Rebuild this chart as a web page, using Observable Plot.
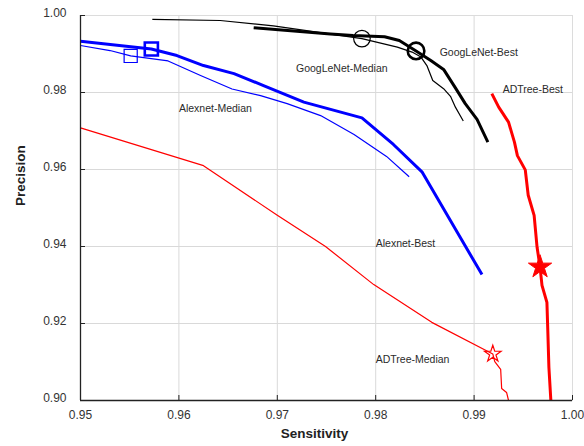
<!DOCTYPE html>
<html>
<head>
<meta charset="utf-8">
<script src="https://cdn.jsdelivr.net/npm/d3@7"></script>
<script src="https://cdn.jsdelivr.net/npm/@observablehq/plot@0.6"></script>
<style>
  html, body { margin: 0; padding: 0; background: #fff; }
  #chart svg { display: block; }
</style>
</head>
<body>
<div id="chart"></div>
<script>
// ---- data ----
const xTicks = [0.95, 0.96, 0.97, 0.98, 0.99, 1.00];
const yTicks = [0.90, 0.92, 0.94, 0.96, 0.98, 1.00];

const seriesNames = ["GoogLeNet-Best", "GoogLeNet-Median", "Alexnet-Best", "Alexnet-Median", "ADTree-Best", "ADTree-Median"];
const seriesColors = ["#000000", "#000000", "#0000ff", "#0000ff", "#ff0000", "#ff0000"];
const seriesWidths = [3, 1.2, 3, 1.2, 3, 1.2];

const googBestX = [0.9676, 0.9754, 0.9777, 0.9809, 0.9824, 0.9841, 0.9856, 0.9869, 0.9881, 0.9891, 0.9903, 0.9914];
const googBestY = [0.9968, 0.9952, 0.9948, 0.9945, 0.9935, 0.9908, 0.9883, 0.9860, 0.9812, 0.9771, 0.9730, 0.9671];

const googMedX = [0.9573, 0.9642, 0.9696, 0.9751, 0.9786, 0.9822, 0.9837, 0.9846, 0.9852, 0.9858, 0.9869, 0.9876, 0.9881, 0.9889];
const googMedY = [0.9990, 0.9987, 0.9973, 0.9953, 0.9940, 0.9918, 0.9905, 0.9892, 0.9870, 0.9831, 0.9810, 0.9790, 0.9762, 0.9726];

const alexBestX = [0.9500, 0.9572, 0.9598, 0.9625, 0.9656, 0.9686, 0.9727, 0.9786, 0.9818, 0.9847, 0.9908];
const alexBestY = [0.9933, 0.9913, 0.9896, 0.9870, 0.9849, 0.9818, 0.9775, 0.9734, 0.9665, 0.9594, 0.9327];

const alexMedX = [0.9500, 0.9530, 0.9551, 0.9589, 0.9622, 0.9654, 0.9683, 0.9710, 0.9744, 0.9778, 0.9811, 0.9834];
const alexMedY = [0.9922, 0.9909, 0.9895, 0.9882, 0.9844, 0.9809, 0.9792, 0.9771, 0.9740, 0.9691, 0.9634, 0.9581];

const adBestX = [0.9918, 0.9925, 0.9935, 0.9941, 0.9944, 0.9952, 0.9955, 0.9961, 0.9964, 0.9967, 0.9969, 0.9974, 0.9975, 0.9976, 0.9978];
const adBestY = [0.9797, 0.9762, 0.9723, 0.9671, 0.9636, 0.9599, 0.9533, 0.9481, 0.9398, 0.9347, 0.9299, 0.9255, 0.9173, 0.9087, 0.9000];

const adMedX = [0.9500, 0.9625, 0.9700, 0.9749, 0.9798, 0.9857, 0.9919, 0.9921, 0.9927, 0.9928, 0.9933, 0.9935];
const adMedY = [0.9708, 0.9610, 0.9481, 0.9400, 0.9301, 0.9203, 0.9121, 0.9101, 0.9081, 0.9031, 0.9021, 0.9000];

// operating-point markers
const markerSeries = ["GoogLeNet-Best", "GoogLeNet-Median", "Alexnet-Best", "Alexnet-Median", "ADTree-Best", "ADTree-Median"];
const markerX = [0.9841, 0.9786, 0.9572, 0.9551, 0.9967, 0.9919];
const markerY = [0.9908, 0.9940, 0.9913, 0.9895, 0.9347, 0.9121];
const markerSymbols = ["circle", "circle", "square", "square", "star", "star"];

// curve labels
const labelTexts = ["GoogLeNet-Median", "GoogLeNet-Best", "ADTree-Best", "Alexnet-Median", "Alexnet-Best", "ADTree-Median"];
const labelX = [0.9719, 0.9865, 0.9929, 0.9600, 0.9800, 0.9800];
const labelY = [0.9862, 0.9903, 0.9807, 0.9758, 0.9407, 0.9107];

// ---- build tables ----
const seriesXY = [[googBestX, googBestY], [googMedX, googMedY], [alexBestX, alexBestY], [alexMedX, alexMedY], [adBestX, adBestY], [adMedX, adMedY]];
const lineRows = [];
seriesXY.forEach(([xs, ys], i) => xs.forEach((x, j) => lineRows.push({series: seriesNames[i], x, y: ys[j]})));
const colorOf = Object.fromEntries(seriesNames.map((s, i) => [s, seriesColors[i]]));
const widthOf = Object.fromEntries(seriesNames.map((s, i) => [s, seriesWidths[i]]));
const markerRows = markerSeries.map((s, i) => ({series: s, x: markerX[i], y: markerY[i], symbol: markerSymbols[i]}));
const labelRows = labelTexts.map((t, i) => ({text: t, x: labelX[i], y: labelY[i]}));

const marks = [
  Plot.gridX(xTicks, {stroke: "#d9d9d9", strokeOpacity: 1, strokeWidth: 1}),
  Plot.gridY(yTicks, {stroke: "#d9d9d9", strokeOpacity: 1, strokeWidth: 1}),
  Plot.frame({stroke: "#dcdcdc", strokeWidth: 1}),
];
// lines, one mark per series to allow different widths
seriesNames.forEach(s => {
  marks.push(Plot.line(lineRows.filter(d => d.series === s), {
    x: "x", y: "y", stroke: colorOf[s], strokeWidth: widthOf[s], strokeLinejoin: "round", strokeLinecap: "butt"
  }));
});
// markers
const sizeOf = {circle: 8, square: 7.5, star: 0};
markerRows.forEach(d => {
  const thick = widthOf[d.series] > 2;
  let r = d.symbol === "circle" ? 8.3 : d.symbol === "square" ? 7.4 : (thick ? 7.3 : 5.2);
  const filled = d.symbol === "star" && thick;
  marks.push(Plot.dot([d], {
    x: "x", y: "y", symbol: d.symbol, r,
    stroke: colorOf[d.series], strokeWidth: thick ? (d.symbol === "star" ? 1 : 2.6) : 1.2,
    fill: filled ? colorOf[d.series] : "none"
  }));
});
// curve labels
marks.push(Plot.text(labelRows, {x: "x", y: "y", text: "text", textAnchor: "start", fontSize: 10.5, fill: "#2b2b2b"}));
// axes: black left/bottom lines, inward ticks
marks.push(Plot.ruleX([xTicks[0]], {stroke: "#222", strokeWidth: 1.3}));
marks.push(Plot.ruleY([yTicks[0]], {stroke: "#222", strokeWidth: 1.3}));
marks.push(Plot.axisX(xTicks, {tickSize: 5, dy: -5, text: null, stroke: "#222", label: null}));
marks.push(Plot.axisY(yTicks, {tickSize: 5, dx: 5, text: null, stroke: "#222", label: null}));
marks.push(Plot.axisX(xTicks, {tickSize: 0, tickPadding: 10, tickFormat: d3.format(".2f"), fontSize: 12, fill: "#333", label: null}));
marks.push(Plot.axisY(yTicks, {tickSize: 0, tickPadding: 14, dy: -2, tickFormat: d3.format(".2f"), fontSize: 12, fill: "#333", label: null}));
// axis titles
marks.push(Plot.text(["Sensitivity"], {frameAnchor: "bottom", dy: 37, dx: -12, text: d => d, fontWeight: "bold", fontSize: 13.5, fill: "#222"}));
marks.push(Plot.text(["Precision"], {frameAnchor: "left", dx: -60, dy: -2, rotate: -90, text: d => d, fontWeight: "bold", fontSize: 13.5, fill: "#222"}));

const chart = Plot.plot({
  width: 584,
  height: 446,
  marginLeft: 80,
  marginRight: 12,
  marginTop: 15,
  marginBottom: 46,
  style: {fontFamily: "'Liberation Sans', Arial, sans-serif", background: "#fff"},
  x: {domain: [0.95, 1.00], axis: null},
  y: {domain: [0.90, 1.00], axis: null},
  marks
});
document.getElementById("chart").appendChild(chart);
</script>
</body>
</html>
